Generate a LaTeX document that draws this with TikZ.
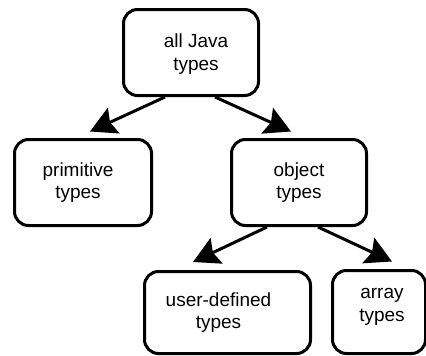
\documentclass[tikz,border=0pt]{standalone}
\usepackage{fontspec}
\setmainfont{Liberation Sans}
\usetikzlibrary{arrows.meta}
\begin{document}
\begin{tikzpicture}[x=1pt,y=-1pt,
  typebox/.style={draw=black,line width=3pt,rounded corners=14pt,inner sep=0pt},
  label/.style={font=\fontsize{19}{22.5}\selectfont,align=center,anchor=base,inner sep=0pt},
  conn/.style={line width=3pt,-{Stealth[length=26pt,width=28pt,inset=4pt]}}]
\useasboundingbox (0,0) rectangle (426,356);
% boxes
\node[typebox,minimum width=135pt,minimum height=86pt] (all) at (191,52.5) {};
\node[typebox,minimum width=137pt,minimum height=86pt] (prim) at (83,182.5) {};
\node[typebox,minimum width=135pt,minimum height=86pt] (obj) at (299,182.5) {};
\node[typebox,minimum width=166pt,minimum height=82pt] (user) at (227.5,312.5) {};
\node[typebox,minimum width=93pt,minimum height=83pt] (arr) at (379,312) {};
% texts (anchor base = baseline of the last line)
\node[label] (allt) at (196,70) {all Java\\types};
\node[label] (primt) at (78,198.5) {primitive\\types};
\node[label] (objt) at (299,198.5) {object\\types};
\node[label] (usert) at (218.5,328.5) {user-defined\\types};
\node[label] (arrt) at (382,321) {array\\types};
% connectors
\draw[conn] ([xshift=-26pt]all.south) -- ([xshift=7pt,yshift=6.5pt]prim.north);
\draw[conn] ([xshift=24pt]all.south) -- ([xshift=-8pt,yshift=6.5pt]obj.north);
\draw[conn] ([xshift=-32pt]obj.south) -- ([xshift=-34.5pt,yshift=8pt]user.north);
\draw[conn] ([xshift=19pt]obj.south) -- ([xshift=13pt,yshift=7.5pt]arr.north);
\end{tikzpicture}
\end{document}
